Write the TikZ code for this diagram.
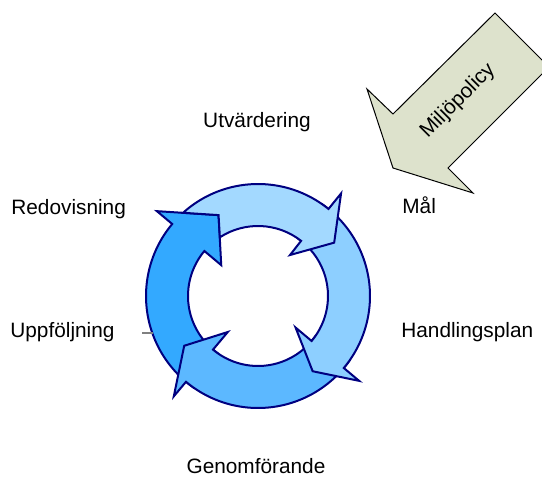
\documentclass[tikz,border=0pt]{standalone}
\usepackage{fontspec}
\setmainfont{Liberation Sans}
\usepackage{tikz}

\definecolor{ringnavy}{RGB}{0,0,128}
\definecolor{ringone}{RGB}{163,217,255}
\definecolor{ringtwo}{RGB}{141,207,255}
\definecolor{ringthree}{RGB}{92,184,255}
\definecolor{ringfour}{RGB}{51,169,255}
\definecolor{policyfill}{RGB}{221,226,204}

\tikzset{
  ringpart/.style={draw=ringnavy, line width=1pt, line join=miter},
  steplabel/.style={inner sep=0pt, font=\fontsize{10.4}{12}\selectfont},
}

\begin{document}
\begin{tikzpicture}[x=0.5pt,y=0.5pt]%,>=latex]
\useasboundingbox (0,0) rectangle (542,-477);

\begin{scope}
\clip (0,0) rectangle (542,-477);
\filldraw[fill=policyfill, draw=black, line width=0.5pt] (495,-13) -- (393,-114) -- (367,-89) -- (393,-168) -- (473,-193) -- (448,-168) -- (549,-67) -- cycle;
\end{scope}
\node[steplabel, rotate=45] (policy) at (458,-101) {Miljöpolicy};

\begin{scope}[shift={(258,-296)}]
% Redovisning -> Utvardering
\filldraw[ringpart, fill=ringfour] (235:112) arc[start angle=235, end angle=140, radius=112] -- (140:132) -- (116:90) -- (140:48) -- (140:70) arc[start angle=140, end angle=235, radius=70] -- cycle;
% Genomforande -> Uppfoljning
\filldraw[ringpart, fill=ringthree] (-35:112) arc[start angle=-35, end angle=-130, radius=112] -- (-130:131) -- (-146:89) -- (-130:47) -- (-130:70) arc[start angle=-130, end angle=-35, radius=70] -- cycle;
% Handlingsplan -> Genomforande
\filldraw[ringpart, fill=ringtwo] (55:112) arc[start angle=55, end angle=-40, radius=112] -- (-40:132) -- (-54:93) -- (-40:49) -- (-40:70) arc[start angle=-40, end angle=55, radius=70] -- cycle;
% Utvardering -> Mal
\filldraw[ringpart, fill=ringone] (132:112) arc[start angle=132, end angle=51, radius=112] -- (51:132) -- (35:93) -- (52:52) -- (52:70) arc[start angle=52, end angle=123, radius=70] -- (116:90) -- cycle;
\end{scope}

\node[steplabel, anchor=base] (utv) at (257,-127) {Utvärdering};
\node[steplabel, anchor=base west] (mal) at (402,-213) {Mål};
\node[steplabel, anchor=base west] (plan) at (401,-337) {Handlingsplan};
\node[steplabel, anchor=base] (genom) at (256,-473) {Genomförande};
\node[steplabel, anchor=base west] (uppf) at (10,-337) {Uppföljning};
\node[steplabel, anchor=base west] (redov) at (11,-214) {Redovisning};

\coordinate (tickL) at (142,-333);
\coordinate (tickR) at (153,-333);
\draw[gray, line width=0.6pt] (tickL) -- (tickR);
\end{tikzpicture}
\end{document}
